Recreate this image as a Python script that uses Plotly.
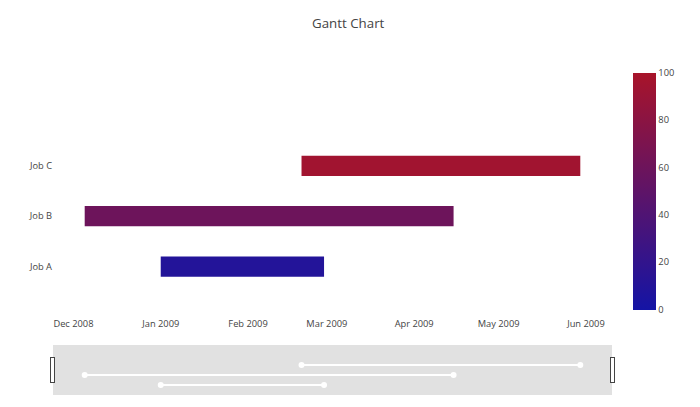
import plotly.graph_objects as go

# jobs, start/finish dates and % complete
tasks = ['Job A', 'Job B', 'Job C']
starts = ['2009-01-01', '2008-12-05', '2009-02-20']
finishes = ['2009-02-28', '2009-04-15', '2009-05-30']
complete = [10, 60, 95]

low_col = (20, 20, 165)
high_col = (168, 20, 42)
cscale = [[0, 'rgb(%d,%d,%d)' % low_col], [1, 'rgb(%d,%d,%d)' % high_col]]


def mix(v):
    t = v / 100.0
    c = [round(a + (b - a) * t) for a, b in zip(low_col, high_col)]
    return 'rgb(%d,%d,%d)' % tuple(c)


fig = go.Figure()

# invisible trace only used to get the colorbar
fig.add_trace(go.Scatter(
    x=starts, y=list(range(len(tasks))), mode='markers',
    marker=dict(size=3, opacity=0, color=complete, colorscale=cscale, cmin=0, cmax=100,
                showscale=True,
                colorbar=dict(thickness=23, lenmode='pixels', len=237, ypad=0,
                              outlinewidth=0, tickfont=dict(size=9.3, color='#444'))),
    hoverinfo='skip', showlegend=False))

for i, name in enumerate(tasks):
    fig.add_trace(go.Scatter(
        x=[starts[i], finishes[i]], y=[i, i], mode='lines+markers', name=name,
        line=dict(color='white', width=2), marker=dict(color='white', size=6),
        showlegend=False))

shapes = []
for i in range(len(tasks)):
    shapes.append(dict(type='rect', xref='x', yref='y',
                       x0=starts[i], x1=finishes[i], y0=i - 0.2, y1=i + 0.2,
                       fillcolor=mix(complete[i]), line=dict(width=0), layer='above'))

fig.update_layout(
    width=700, height=407,
    font=dict(family='Open Sans', color='#444'),
    title=dict(text='Gantt Chart', x=0.486, xref='container', y=0.962, yanchor='middle',
               font=dict(size=13.3, color='#444')),
    shapes=shapes,
    showlegend=False,
    hovermode='closest',
    paper_bgcolor='white', plot_bgcolor='white',
    margin=dict(l=45, r=96, t=57, b=20),
    xaxis=dict(type='date', showgrid=False, zeroline=False, tickformat='%b %Y',
               tickfont=dict(size=9.3, color='#444'),
               rangeslider=dict(visible=True, bgcolor='#e1e1e1', thickness=0.15)),
    yaxis=dict(showgrid=False, zeroline=False, tickvals=list(range(len(tasks))),
               ticktext=tasks, range=[-1, len(tasks) + 1], autorange=False,
               tickfont=dict(size=9.3, color='#444')),
)

fig.write_html('out.html')
